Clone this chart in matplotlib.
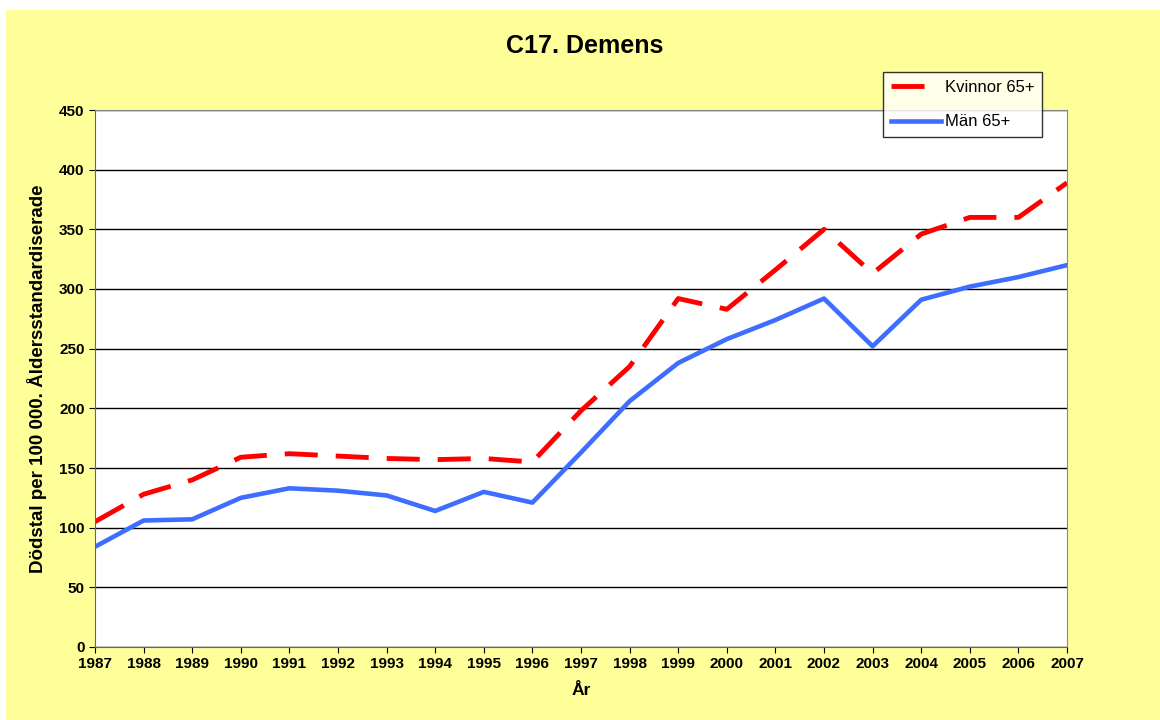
import matplotlib
matplotlib.use("Agg")
import matplotlib.pyplot as plt
from matplotlib.lines import Line2D

plt.rcParams['font.family'] = ['Liberation Sans', 'DejaVu Sans']

years = list(range(1987, 2008))
kvinnor = [105, 128, 140, 159, 162, 160, 158, 157, 158, 155,
           198, 235, 292, 283, 316, 350, 313, 346, 360, 360, 389]
man = [84, 106, 107, 125, 133, 131, 127, 114, 130, 121,
       163, 206, 238, 258, 274, 292, 252, 291, 302, 310, 320]
yticks = list(range(0, 451, 50))

W, H = 1160, 720
fig = plt.figure(figsize=(11.6, 7.2), dpi=100, facecolor='white')
# yellow chart area, small white margin top-left
fig.patches.append(plt.Rectangle((6/W, 0), 1, 1 - 10/H, transform=fig.transFigure,
                                 facecolor='#FFFF99', edgecolor='none', zorder=-10))

ax = fig.add_axes([95/W, 73/H, 972/W, 537/H])
ax.set_facecolor('white')

red_dash = (6.8, 3.7)
ax.plot(years, kvinnor, color='#FF0000', lw=3.5, dashes=red_dash, label='Kvinnor 65+')
ax.plot(years, man, color='#3D6EFF', lw=3.3, label='Män 65+')

ax.set_xlim(1987, 2007)
ax.set_ylim(0, 450)
ax.set_xticks(years)
ax.set_yticks(yticks)
ax.yaxis.grid(True, color='black', lw=1)
ax.set_axisbelow(True)
ax.tick_params(labelsize=11, length=4, direction='out')
for lab in ax.get_xticklabels() + ax.get_yticklabels():
    lab.set_fontweight('bold')
for side in ['top', 'right']:
    ax.spines[side].set_color('#888888')
for side in ['left', 'bottom']:
    ax.spines[side].set_color('#666666')

ax.set_xlabel('År', fontsize=12.5, fontweight='bold', labelpad=8)
ax.set_ylabel('Dödstal per 100 000. Åldersstandardiserade', fontsize=13.5,
              fontweight='bold', labelpad=9)
fig.text(585/W, 1 - 46/H, 'C17. Demens', ha='center', va='center',
         fontsize=18, fontweight='bold')

handles = [Line2D([], [], color='#FF0000', lw=3.5, dashes=red_dash),
           Line2D([], [], color='#3D6EFF', lw=3.3)]
leg = fig.legend(handles, ['Kvinnor 65+', 'Män 65+'], loc='upper left',
                 bbox_to_anchor=(883/W, 1 - 72/H), fontsize=12,
                 frameon=True, fancybox=False, edgecolor='black',
                 handlelength=3.0, borderpad=0.45, labelspacing=1.2,
                 handletextpad=0.25, borderaxespad=0)
leg.get_frame().set_linewidth(1)

fig.savefig('out.png', dpi=100, facecolor=fig.get_facecolor())
